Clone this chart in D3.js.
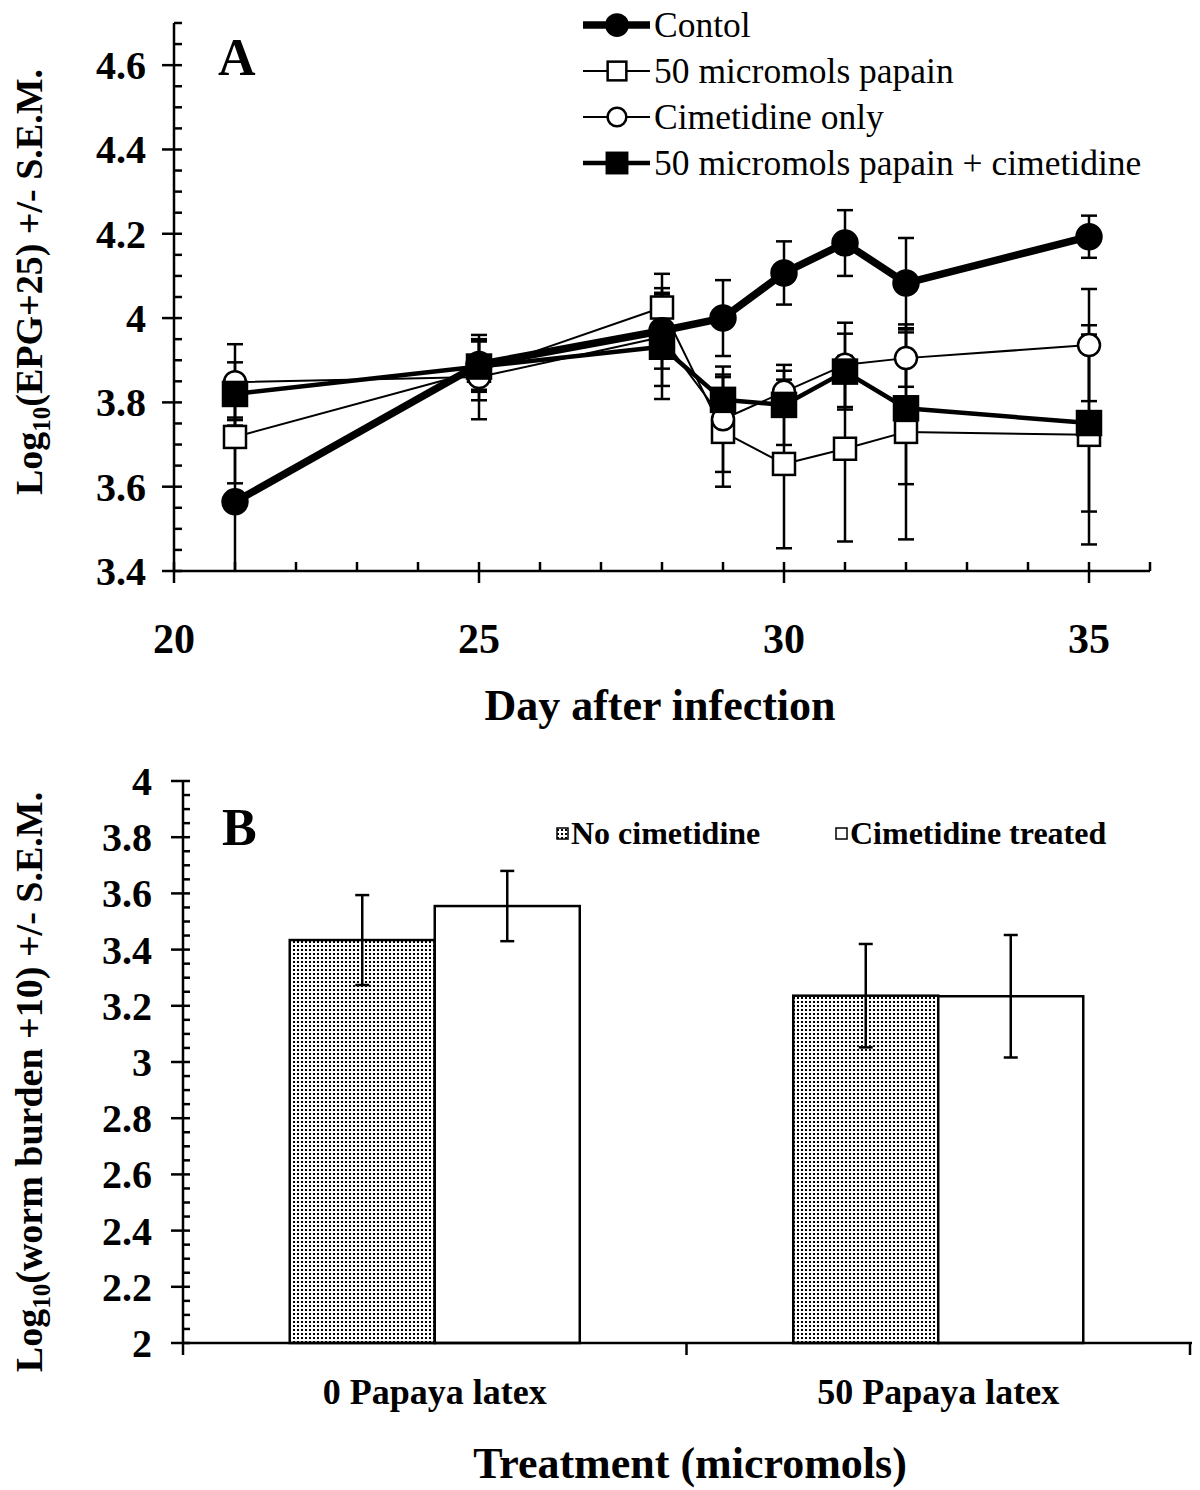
<!DOCTYPE html>
<html><head><meta charset="utf-8">
<script src="https://cdn.jsdelivr.net/npm/d3@7"></script>
<style>body{margin:0;background:#fff}svg{display:block}text{font-family:"Liberation Serif","Times New Roman",serif;fill:#000}</style>
</head><body>
<script>
// ---------- Panel A data ----------
const days = [21, 25, 28, 29, 30, 31, 32, 35];
const seriesNames = ["Contol", "50 micromols papain", "Cimetidine only", "50 micromols papain + cimetidine"];
const control    = [3.564, 3.890, 3.970, 4.000, 4.107, 4.178, 4.083, 4.193];
const controlSem = [0.200, 0.060, 0.090, 0.090, 0.075, 0.078, 0.107, 0.050];
const papain     = [3.718, 3.875, 4.025, 3.730, 3.654, 3.690, 3.730, 3.723];
const papainSem  = [0.110, 0.070, 0.080, 0.130, 0.200, 0.220, 0.255, 0.260];
const cimOnly    = [3.848, 3.860, 3.955, 3.760, 3.825, 3.889, 3.905, 3.936];
const cimOnlySem = [0.090, 0.100, 0.116, 0.125, 0.050, 0.100, 0.068, 0.133];
const papCim     = [3.820, 3.885, 3.932, 3.806, 3.794, 3.873, 3.786, 3.751];
const papCimSem  = [0.075, 0.060, 0.124, 0.060, 0.095, 0.090, 0.180, 0.210];
const xTicksA = [20, 25, 30, 35];
const yTicksA = [3.4, 3.6, 3.8, 4, 4.2, 4.4, 4.6];

// ---------- Panel B data ----------
const treatments = ["0 Papaya latex", "50 Papaya latex"];
const barSeries = ["No cimetidine", "Cimetidine treated"];
const noCim = [3.434, 3.236];
const noCimSem = [0.160, 0.184];
const cimTreated = [3.555, 3.234];
const cimTreatedSem = [0.125, 0.218];
const yTicksB = [2, 2.2, 2.4, 2.6, 2.8, 3, 3.2, 3.4, 3.6, 3.8, 4];

const W = 1200, H = 1490;
const svg = d3.select("body").append("svg").attr("width", W).attr("height", H);
const defs = svg.append("defs");
const pat = defs.append("pattern").attr("id", "dots").attr("patternUnits", "userSpaceOnUse")
  .attr("width", 4).attr("height", 4);
pat.append("rect").attr("width", 4).attr("height", 4).attr("fill", "#fff");
pat.append("rect").attr("x", 1).attr("y", 1).attr("width", 2).attr("height", 2).attr("fill", "#000");

// ================= PANEL A =================
const xA = d3.scaleLinear().domain([20, 36]).range([174, 1150]);
const yA = d3.scaleLinear().domain([3.4, 4.7]).range([571, 23]);
const gA = svg.append("g");
defs.append("clipPath").attr("id", "clipA").append("rect")
  .attr("x", 174).attr("y", 0).attr("width", 1000).attr("height", 571 - 0);

// axes
gA.append("line").attr("x1", xA(20)).attr("x2", xA(20)).attr("y1", yA(4.7)).attr("y2", yA(3.4))
  .attr("stroke", "#000").attr("stroke-width", 2.5);
gA.append("line").attr("x1", xA(20)).attr("x2", xA(36)).attr("y1", yA(3.4)).attr("y2", yA(3.4))
  .attr("stroke", "#000").attr("stroke-width", 2.5);
// y ticks
d3.range(0, 27).map(i => 3.4 + i * 0.05).forEach(v => {
  const major = Math.abs(v * 5 - Math.round(v * 5)) < 1e-6;
  gA.append("line").attr("x1", major ? 162 : 174).attr("x2", 182)
    .attr("y1", yA(v)).attr("y2", yA(v)).attr("stroke", "#000").attr("stroke-width", 2.5);
});
yTicksA.forEach(v => {
  gA.append("text").attr("x", 146).attr("y", yA(v)).attr("dy", "0.35em").attr("text-anchor", "end")
    .attr("font-size", 40).attr("font-weight", "bold").text(v);
});
// x ticks
d3.range(20, 37).forEach(d => {
  const major = d % 5 === 0;
  gA.append("line").attr("x1", xA(d)).attr("x2", xA(d))
    .attr("y1", yA(3.4) - 9).attr("y2", major ? yA(3.4) + 12 : yA(3.4))
    .attr("stroke", "#000").attr("stroke-width", 2.5);
});
xTicksA.forEach(d => {
  gA.append("text").attr("x", xA(d)).attr("y", 653).attr("text-anchor", "middle")
    .attr("font-size", 42).attr("font-weight", "bold").text(d);
});
gA.append("text").attr("x", 660).attr("y", 720).attr("text-anchor", "middle")
  .attr("font-size", 44).attr("font-weight", "bold").text("Day after infection");
// y label
const yl = gA.append("text").attr("transform", "translate(42,282) rotate(-90)").attr("text-anchor", "middle")
  .attr("font-size", 38).attr("font-weight", "bold");
yl.append("tspan").text("Log");
yl.append("tspan").attr("font-size", 25).attr("dy", 8).text("10");
yl.append("tspan").attr("dy", -8).text("(EPG+25) +/- S.E.M.");
gA.append("text").attr("x", 218).attr("y", 75).attr("font-size", 52).attr("font-weight", "bold").text("A");

const seriesA = [
  {name: seriesNames[1], vals: papain, sem: papainSem, lw: 2, marker: "sq", fill: "#fff"},
  {name: seriesNames[2], vals: cimOnly, sem: cimOnlySem, lw: 2, marker: "circ", fill: "#fff"},
  {name: seriesNames[3], vals: papCim, sem: papCimSem, lw: 4.5, marker: "sq", fill: "#000"},
  {name: seriesNames[0], vals: control, sem: controlSem, lw: 7.5, marker: "circ", fill: "#000"}
];
const plotA = gA.append("g").attr("clip-path", "url(#clipA)");
// error bars
seriesA.forEach(s => {
  days.forEach((d, i) => {
    const x = xA(d), hi = yA(s.vals[i] + s.sem[i]), lo = yA(s.vals[i] - s.sem[i]);
    plotA.append("line").attr("x1", x).attr("x2", x).attr("y1", hi).attr("y2", lo)
      .attr("stroke", "#000").attr("stroke-width", 2.5);
    [hi, lo].forEach(yy => plotA.append("line").attr("x1", x - 8).attr("x2", x + 8)
      .attr("y1", yy).attr("y2", yy).attr("stroke", "#000").attr("stroke-width", 2.5));
  });
});
const line = d3.line().x((v, i) => xA(days[i])).y(v => yA(v));
function drawMarker(g, s, x, y, scale) {
  if (s.marker === "circ") {
    const r = (s.fill === "#000" ? 12.5 : 11) * scale;
    g.append("circle").attr("cx", x).attr("cy", y).attr("r", r)
      .attr("fill", s.fill).attr("stroke", "#000").attr("stroke-width", 2.5);
  } else {
    const a = (s.fill === "#000" ? 24 : 22) * scale;
    g.append("rect").attr("x", x - a / 2).attr("y", y - a / 2).attr("width", a).attr("height", a)
      .attr("fill", s.fill).attr("stroke", "#000").attr("stroke-width", 2.5);
  }
}
seriesA.forEach(s => {
  plotA.append("path").attr("d", line(s.vals)).attr("fill", "none").attr("stroke", "#000")
    .attr("stroke-width", s.lw).attr("stroke-linejoin", "round");
});
seriesA.forEach(s => {
  days.forEach((d, i) => drawMarker(gA, s, xA(d), yA(s.vals[i]), 1));
});
// legend A
const legOrder = [3, 0, 1, 2];
legOrder.forEach((k, j) => {
  const s = seriesA[k];
  const yy = 25 + j * 46;
  gA.append("line").attr("x1", 583).attr("x2", 650).attr("y1", yy).attr("y2", yy)
    .attr("stroke", "#000").attr("stroke-width", s.lw);
  drawMarker(gA, s, 617, yy, 0.85);
  gA.append("text").attr("x", 654).attr("y", yy).attr("dy", "0.35em").attr("font-size", 35.5).text(s.name);
});

// ================= PANEL B =================
const xB = d3.scaleBand().domain(treatments).range([183, 1190]).padding(0);
const xB1 = d3.scaleBand().domain(barSeries).range([xB.bandwidth() * 0.212, xB.bandwidth() * 0.788]).padding(0);
const yB = d3.scaleLinear().domain([2, 4]).range([1343, 781]);
const gB = svg.append("g");
const barData = [
  {name: barSeries[0], vals: noCim, sem: noCimSem, fill: "url(#dots)"},
  {name: barSeries[1], vals: cimTreated, sem: cimTreatedSem, fill: "#fff"}
];
barData.forEach(s => {
  treatments.forEach((t, i) => {
    const x0 = xB(t) + xB1(s.name);
    gB.append("rect").attr("x", x0).attr("y", yB(s.vals[i])).attr("width", xB1.bandwidth())
      .attr("height", yB(2) - yB(s.vals[i])).attr("fill", s.fill).attr("stroke", "#000").attr("stroke-width", 2.5);
  });
});
barData.forEach(s => {
  treatments.forEach((t, i) => {
    const x = xB(t) + xB1(s.name) + xB1.bandwidth() / 2;
    const hi = yB(s.vals[i] + s.sem[i]), lo = yB(s.vals[i] - s.sem[i]);
    gB.append("line").attr("x1", x).attr("x2", x).attr("y1", hi).attr("y2", lo).attr("stroke", "#000").attr("stroke-width", 2.5);
    [hi, lo].forEach(yy => gB.append("line").attr("x1", x - 7).attr("x2", x + 7).attr("y1", yy).attr("y2", yy)
      .attr("stroke", "#000").attr("stroke-width", 2.5));
  });
});
// axes B
gB.append("line").attr("x1", 183).attr("x2", 183).attr("y1", yB(4)).attr("y2", yB(2)).attr("stroke", "#000").attr("stroke-width", 2.5);
gB.append("line").attr("x1", 183).attr("x2", 1192).attr("y1", yB(2)).attr("y2", yB(2)).attr("stroke", "#000").attr("stroke-width", 2.5);
d3.range(0, 41).map(i => 2 + i * 0.05).forEach(v => {
  const major = Math.abs(v * 5 - Math.round(v * 5)) < 1e-6;
  gB.append("line").attr("x1", major ? 171 : 183).attr("x2", 190)
    .attr("y1", yB(v)).attr("y2", yB(v)).attr("stroke", "#000").attr("stroke-width", 2.5);
});
yTicksB.forEach(v => {
  gB.append("text").attr("x", 152).attr("y", yB(v)).attr("dy", "0.35em").attr("text-anchor", "end")
    .attr("font-size", 40).attr("font-weight", "bold").text(v);
});
[183, xB(treatments[1]), 1190].forEach(x => {
  gB.append("line").attr("x1", x).attr("x2", x).attr("y1", yB(2)).attr("y2", yB(2) + 12).attr("stroke", "#000").attr("stroke-width", 2.5);
});
treatments.forEach(t => {
  gB.append("text").attr("x", xB(t) + xB.bandwidth() / 2).attr("y", 1404).attr("text-anchor", "middle")
    .attr("font-size", 36).attr("font-weight", "bold").text(t);
});
gB.append("text").attr("x", 690).attr("y", 1478).attr("text-anchor", "middle")
  .attr("font-size", 44).attr("font-weight", "bold").text("Treatment (micromols)");
const ylB = gB.append("text").attr("transform", "translate(42,1082) rotate(-90)").attr("text-anchor", "middle")
  .attr("font-size", 38).attr("font-weight", "bold");
ylB.append("tspan").text("Log");
ylB.append("tspan").attr("font-size", 25).attr("dy", 8).text("10");
ylB.append("tspan").attr("dy", -8).text("(worm burden +10) +/- S.E.M.");
gB.append("text").attr("x", 222).attr("y", 845).attr("font-size", 52).attr("font-weight", "bold").text("B");
// legend B
const legB = [{x: 557, s: barData[0]}, {x: 836, s: barData[1]}];
legB.forEach(l => {
  gB.append("rect").attr("x", l.x).attr("y", 828).attr("width", 11).attr("height", 11)
    .attr("fill", l.s.fill).attr("stroke", "#000").attr("stroke-width", 1.5);
  gB.append("text").attr("x", l.x + 14).attr("y", 844).attr("font-size", 32).attr("font-weight", "bold").text(l.s.name);
});
</script>
</body></html>
